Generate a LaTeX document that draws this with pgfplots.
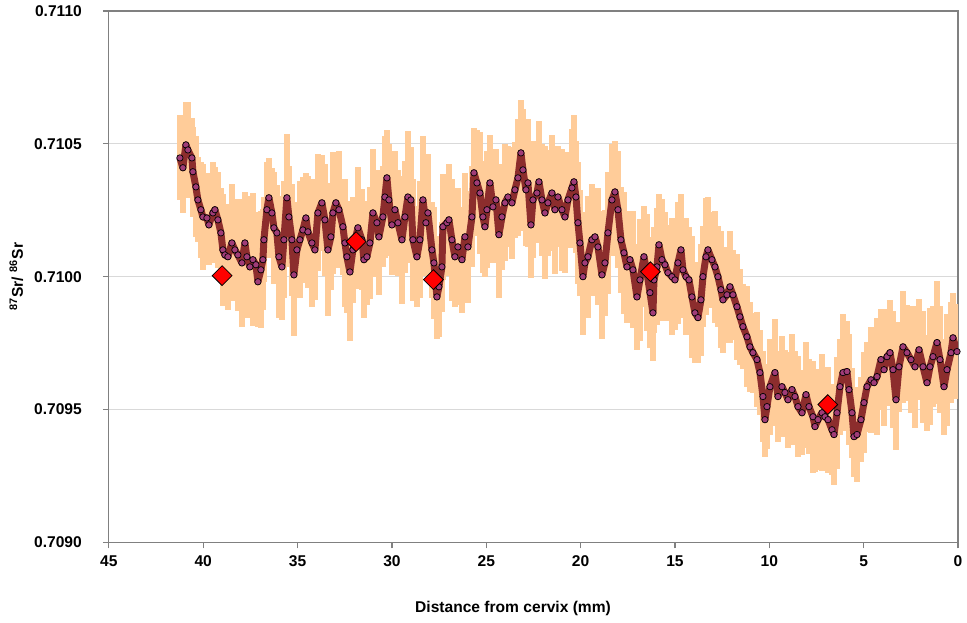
\documentclass[border=0pt]{standalone}
\usepackage{fontspec}
\setmainfont{Liberation Sans}
\usepackage{pgfplots}
\usepackage{pgfplotstable}
\pgfplotsset{compat=1.18}
\definecolor{band}{RGB}{255,204,153}
\definecolor{trace}{RGB}{140,45,45}
\definecolor{dot}{RGB}{160,60,120}
\definecolor{frame}{RGB}{128,128,128}
\definecolor{gridc}{RGB}{217,217,217}

% x = distance from cervix (mm), y = 87Sr/86Sr, e = error (half-width)
\pgfplotstableread{
x y e
41.236 0.710447 0.00016
41.077 0.710410 0.00017
40.918 0.710496 0.00016
40.812 0.710477 0.00018
40.600 0.710447 0.00015
40.547 0.710395 0.00017
40.388 0.710338 0.00019
40.282 0.710289 0.00016
40.123 0.710252 0.00018
40.017 0.710225 0.00020
39.805 0.710221 0.00017
39.699 0.710195 0.00015
39.487 0.710240 0.00019
39.381 0.710252 0.00016
39.222 0.710214 0.00018
39.063 0.710165 0.00017
38.957 0.710101 0.00021
38.851 0.710082 0.00018
38.692 0.710075 0.00020
38.480 0.710127 0.00022
38.321 0.710101 0.00017
38.162 0.710082 0.00021
37.950 0.710052 0.00024
37.791 0.710127 0.00019
37.685 0.710075 0.00023
37.526 0.710037 0.00018
37.367 0.710064 0.00025
37.208 0.710045 0.00020
37.102 0.709981 0.00017
36.943 0.710026 0.00022
36.837 0.710064 0.00019
36.784 0.710139 0.00016
36.625 0.710252 0.00018
36.519 0.710297 0.00015
36.360 0.710240 0.00017
36.254 0.710184 0.00021
36.095 0.710165 0.00018
35.989 0.710075 0.00023
35.830 0.710037 0.00020
35.724 0.710139 0.00022
35.565 0.710297 0.00024
35.459 0.710225 0.00019
35.300 0.710139 0.00021
35.194 0.710007 0.00023
35.035 0.710101 0.00018
34.876 0.710139 0.00022
34.717 0.710176 0.00020
34.558 0.710221 0.00017
34.452 0.710169 0.00021
34.240 0.710127 0.00024
34.081 0.710101 0.00019
33.922 0.710240 0.00022
33.710 0.710278 0.00018
33.551 0.710214 0.00021
33.392 0.710101 0.00025
33.233 0.710150 0.00020
33.127 0.710240 0.00023
32.968 0.710278 0.00019
32.809 0.710252 0.00022
32.597 0.710188 0.00018
32.491 0.710127 0.00024
32.385 0.710075 0.00021
32.226 0.710018 0.00026
32.067 0.710101 0.00020
31.802 0.710184 0.00023
31.590 0.710139 0.00019
31.484 0.710064 0.00022
31.325 0.710075 0.00018
31.166 0.710127 0.00021
31.007 0.710240 0.00024
30.795 0.710203 0.00020
30.689 0.710150 0.00022
30.477 0.710225 0.00019
30.371 0.710300 0.00023
30.265 0.710372 0.00018
30.159 0.710289 0.00021
30.000 0.710195 0.00019
29.841 0.710252 0.00022
29.682 0.710203 0.00020
29.470 0.710139 0.00024
29.311 0.710225 0.00021
29.152 0.710300 0.00025
28.993 0.710289 0.00020
28.887 0.710139 0.00023
28.675 0.710075 0.00019
28.516 0.710139 0.00022
28.357 0.710289 0.00024
28.198 0.710203 0.00020
28.092 0.710240 0.00022
27.880 0.710101 0.00018
27.774 0.710052 0.00021
27.615 0.709924 0.00016
27.509 0.709962 0.00019
27.350 0.710037 0.00017
27.297 0.710188 0.00020
27.085 0.710203 0.00018
26.979 0.710214 0.00021
26.820 0.710139 0.00023
26.661 0.710075 0.00019
26.502 0.710112 0.00022
26.289 0.710064 0.00020
26.130 0.710150 0.00024
25.971 0.710112 0.00021
25.759 0.710225 0.00019
25.653 0.710391 0.00017
25.494 0.710353 0.00020
25.335 0.710315 0.00023
25.176 0.710225 0.00021
25.070 0.710188 0.00019
24.964 0.710252 0.00022
24.805 0.710353 0.00018
24.646 0.710263 0.00021
24.487 0.710289 0.00019
24.328 0.710158 0.00024
24.169 0.710225 0.00020
24.010 0.710278 0.00022
23.851 0.710300 0.00019
23.639 0.710278 0.00021
23.480 0.710327 0.00018
23.321 0.710372 0.00022
23.162 0.710466 0.00020
23.056 0.710402 0.00023
22.897 0.710327 0.00021
22.791 0.710353 0.00024
22.632 0.710195 0.00020
22.526 0.710289 0.00022
22.314 0.710315 0.00019
22.208 0.710357 0.00023
22.049 0.710289 0.00021
21.890 0.710240 0.00025
21.731 0.710278 0.00020
21.519 0.710315 0.00022
21.360 0.710252 0.00024
21.201 0.710300 0.00019
20.989 0.710252 0.00023
20.830 0.710225 0.00021
20.671 0.710289 0.00018
20.459 0.710334 0.00022
20.353 0.710357 0.00025
20.247 0.710300 0.00021
20.141 0.710203 0.00023
20.035 0.710127 0.00020
19.876 0.710000 0.00022
19.770 0.710052 0.00019
19.611 0.710075 0.00023
19.399 0.710139 0.00021
19.240 0.710150 0.00018
19.081 0.710112 0.00022
18.869 0.710007 0.00024
18.710 0.710052 0.00020
18.551 0.710165 0.00023
18.339 0.710289 0.00021
18.180 0.710319 0.00019
18.021 0.710252 0.00022
17.862 0.710139 0.00020
17.703 0.710090 0.00023
17.544 0.710037 0.00021
17.385 0.710064 0.00018
17.226 0.710026 0.00022
17.014 0.709924 0.00020
16.855 0.709988 0.00023
16.643 0.710075 0.00019
16.484 0.710015 0.00022
16.325 0.709940 0.00021
16.166 0.709864 0.00018
16.113 0.709988 0.00020
15.954 0.710037 0.00022
15.848 0.710120 0.00019
15.689 0.710064 0.00023
15.530 0.710045 0.00020
15.371 0.710015 0.00018
15.159 0.710000 0.00022
15.000 0.709988 0.00019
14.841 0.710052 0.00023
14.682 0.710101 0.00021
14.576 0.710026 0.00018
14.417 0.710000 0.00022
14.258 0.709988 0.00020
14.099 0.709924 0.00023
13.940 0.709864 0.00019
13.781 0.709846 0.00017
13.622 0.709913 0.00021
13.516 0.710000 0.00019
13.357 0.710075 0.00022
13.251 0.710101 0.00020
13.039 0.710064 0.00018
12.880 0.710037 0.00021
12.721 0.710000 0.00019
12.562 0.709951 0.00022
12.456 0.709913 0.00020
12.244 0.709932 0.00018
12.085 0.709962 0.00021
11.926 0.709932 0.00017
11.714 0.709887 0.00020
11.555 0.709849 0.00018
11.396 0.709812 0.00016
11.184 0.709774 0.00019
11.025 0.709736 0.00017
10.866 0.709714 0.00015
10.654 0.709688 0.00018
10.495 0.709639 0.00016
10.336 0.709549 0.00017
10.230 0.709462 0.00014
10.124 0.709511 0.00016
9.965 0.709586 0.00018
9.700 0.709639 0.00020
9.541 0.709549 0.00017
9.329 0.709586 0.00019
9.170 0.709564 0.00016
9.011 0.709537 0.00018
8.798 0.709575 0.00021
8.640 0.709549 0.00017
8.480 0.709511 0.00019
8.268 0.709488 0.00016
8.056 0.709556 0.00020
7.897 0.709511 0.00018
7.685 0.709473 0.00021
7.579 0.709436 0.00017
7.420 0.709462 0.00019
7.208 0.709488 0.00022
7.049 0.709473 0.00018
6.890 0.709462 0.00020
6.678 0.709424 0.00017
6.572 0.709406 0.00019
6.413 0.709488 0.00021
6.254 0.709586 0.00018
6.095 0.709639 0.00022
5.883 0.709643 0.00019
5.777 0.709575 0.00021
5.618 0.709488 0.00017
5.512 0.709398 0.00015
5.353 0.709406 0.00018
5.141 0.709462 0.00016
4.982 0.709526 0.00019
4.823 0.709586 0.00017
4.611 0.709612 0.00020
4.452 0.709601 0.00018
4.293 0.709624 0.00022
4.081 0.709688 0.00019
3.922 0.709650 0.00021
3.763 0.709699 0.00018
3.604 0.709714 0.00020
3.445 0.709650 0.00022
3.286 0.709537 0.00019
3.127 0.709661 0.00017
2.915 0.709736 0.00021
2.703 0.709714 0.00018
2.491 0.709688 0.00020
2.279 0.709661 0.00023
2.067 0.709725 0.00019
1.855 0.709661 0.00021
1.643 0.709601 0.00018
1.484 0.709661 0.00022
1.325 0.709699 0.00019
1.113 0.709752 0.00023
0.954 0.709688 0.00020
0.742 0.709586 0.00018
0.583 0.709650 0.00021
0.371 0.709714 0.00019
0.265 0.709770 0.00017
0.053 0.709718 0.00018
}\srdata

\begin{document}
\begin{tikzpicture}
\begin{axis}[
  name=ax,
  scale only axis,
  width=425pt, height=266pt,
  x dir=reverse,
  xmin=0, xmax=45,
  ymin=0.709, ymax=0.711,
  xtick={0,5,...,45},
  ytick={0.709,0.7095,0.71,0.7105,0.711},
  scaled y ticks=false,
  /pgf/number format/assume math mode=true,
  xticklabel style={font=\bfseries\fontsize{7.8}{9}\selectfont},
  yticklabel style={font=\bfseries\fontsize{7.8}{9}\selectfont, xshift=-7pt,
    /pgf/number format/.cd, fixed, fixed zerofill, precision=4},
  ymajorgrids,
  grid style={draw=gridc, line width=0.5pt},
  axis line style={draw=frame, line width=0.6pt},
  tick pos=left,
  tick align=outside,
  major tick length=3pt,
  tick style={draw=frame, line width=0.6pt},
  xlabel={Distance from cervix (mm)},
  xlabel style={font=\bfseries\fontsize{7.8}{9}\selectfont, at={(axis description cs:0.476,0)}, anchor=center, yshift=-33pt},
  ylabel={\textsuperscript{87}Sr/ \textsuperscript{86}Sr},
  ylabel style={font=\bfseries\fontsize{7.8}{9}\selectfont, at={(axis description cs:-0.109,0.5)}, anchor=center},
]
\addplot[forget plot, draw=none, mark=none,
  error bars/.cd, y dir=both, y explicit,
  error mark=none,
  error bar style={draw=band, line width=3pt}]
  table[x=x, y=y, y error=e]{\srdata};
\addplot[forget plot, draw=trace, line width=3.5pt, line join=round,
  mark=*, mark size=1.6pt,
  mark options={fill=dot, draw=black, line width=0.35pt}]
  table[x=x, y=y]{\srdata};
\addplot[only marks, mark=square*, mark size=3.5pt,
  mark options={rotate=45, fill=red, draw=black, line width=0.4pt}]
  coordinates {(39.0,0.710004) (31.9,0.710132) (27.8,0.709989) (16.3,0.710019) (6.9,0.709519)};
\end{axis}
\pgfresetboundingbox
\path[use as bounding box] ([xshift=-54.5pt,yshift=-40pt]ax.south west) rectangle ([xshift=4.5pt,yshift=5.5pt]ax.north east);
\end{tikzpicture}
\end{document}
